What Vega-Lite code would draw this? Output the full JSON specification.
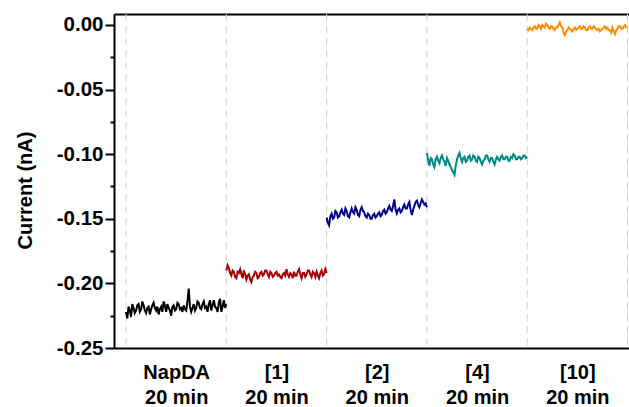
{
  "$schema": "https://vega.github.io/schema/vega-lite/v6.json",
  "width": 515,
  "height": 334,
  "autosize": {"type": "none"},
  "padding": {"left": 114, "top": 14, "right": 0, "bottom": 59},
  "config": {
    "view": {"stroke": null},
    "axis": {
      "labelFont": "Liberation Sans",
      "titleFont": "Liberation Sans",
      "labelFontWeight": "bold",
      "titleFontWeight": "bold",
      "labelColor": "#000000",
      "titleColor": "#000000",
      "domainColor": "#000000",
      "tickColor": "#000000",
      "grid": false
    }
  },
  "datasets": {
    "bounds": [{"time": 0}, {"time": 20}, {"time": 40}, {"time": 60}, {"time": 80}, {"time": 100}],
    "series": [
      {"sample":"NapDA","time":0,"current":-0.222},{"sample":"NapDA","time":0.25,"current":-0.227},{"sample":"NapDA","time":0.5,"current":-0.218},{"sample":"NapDA","time":0.75,"current":-0.221},
      {"sample":"NapDA","time":1,"current":-0.226},{"sample":"NapDA","time":1.25,"current":-0.216},{"sample":"NapDA","time":1.5,"current":-0.219},{"sample":"NapDA","time":1.75,"current":-0.223},
      {"sample":"NapDA","time":2,"current":-0.221},{"sample":"NapDA","time":2.25,"current":-0.217},{"sample":"NapDA","time":2.5,"current":-0.216},{"sample":"NapDA","time":2.75,"current":-0.222},
      {"sample":"NapDA","time":3,"current":-0.220},{"sample":"NapDA","time":3.25,"current":-0.214},{"sample":"NapDA","time":3.5,"current":-0.217},{"sample":"NapDA","time":3.75,"current":-0.221},
      {"sample":"NapDA","time":4,"current":-0.223},{"sample":"NapDA","time":4.25,"current":-0.219},{"sample":"NapDA","time":4.5,"current":-0.218},{"sample":"NapDA","time":4.75,"current":-0.224},
      {"sample":"NapDA","time":5,"current":-0.220},{"sample":"NapDA","time":5.25,"current":-0.217},{"sample":"NapDA","time":5.5,"current":-0.215},{"sample":"NapDA","time":5.75,"current":-0.219},
      {"sample":"NapDA","time":6,"current":-0.221},{"sample":"NapDA","time":6.25,"current":-0.218},{"sample":"NapDA","time":6.5,"current":-0.224},{"sample":"NapDA","time":6.75,"current":-0.220},
      {"sample":"NapDA","time":7,"current":-0.218},{"sample":"NapDA","time":7.25,"current":-0.222},{"sample":"NapDA","time":7.5,"current":-0.214},{"sample":"NapDA","time":7.75,"current":-0.217},
      {"sample":"NapDA","time":8,"current":-0.222},{"sample":"NapDA","time":8.25,"current":-0.216},{"sample":"NapDA","time":8.5,"current":-0.219},{"sample":"NapDA","time":8.75,"current":-0.221},
      {"sample":"NapDA","time":9,"current":-0.225},{"sample":"NapDA","time":9.25,"current":-0.218},{"sample":"NapDA","time":9.5,"current":-0.217},{"sample":"NapDA","time":9.75,"current":-0.221},
      {"sample":"NapDA","time":10,"current":-0.220},{"sample":"NapDA","time":10.25,"current":-0.215},{"sample":"NapDA","time":10.5,"current":-0.216},{"sample":"NapDA","time":10.75,"current":-0.220},
      {"sample":"NapDA","time":11,"current":-0.219},{"sample":"NapDA","time":11.25,"current":-0.222},{"sample":"NapDA","time":11.5,"current":-0.217},{"sample":"NapDA","time":11.75,"current":-0.220},
      {"sample":"NapDA","time":12,"current":-0.221},{"sample":"NapDA","time":12.25,"current":-0.214},{"sample":"NapDA","time":12.5,"current":-0.204},{"sample":"NapDA","time":12.75,"current":-0.218},
      {"sample":"NapDA","time":13,"current":-0.222},{"sample":"NapDA","time":13.25,"current":-0.219},{"sample":"NapDA","time":13.5,"current":-0.216},{"sample":"NapDA","time":13.75,"current":-0.221},
      {"sample":"NapDA","time":14,"current":-0.219},{"sample":"NapDA","time":14.25,"current":-0.214},{"sample":"NapDA","time":14.5,"current":-0.215},{"sample":"NapDA","time":14.75,"current":-0.219},
      {"sample":"NapDA","time":15,"current":-0.220},{"sample":"NapDA","time":15.25,"current":-0.216},{"sample":"NapDA","time":15.5,"current":-0.214},{"sample":"NapDA","time":15.75,"current":-0.219},
      {"sample":"NapDA","time":16,"current":-0.218},{"sample":"NapDA","time":16.25,"current":-0.222},{"sample":"NapDA","time":16.5,"current":-0.216},{"sample":"NapDA","time":16.75,"current":-0.213},
      {"sample":"NapDA","time":17,"current":-0.221},{"sample":"NapDA","time":17.25,"current":-0.217},{"sample":"NapDA","time":17.5,"current":-0.213},{"sample":"NapDA","time":17.75,"current":-0.218},
      {"sample":"NapDA","time":18,"current":-0.219},{"sample":"NapDA","time":18.25,"current":-0.222},{"sample":"NapDA","time":18.5,"current":-0.215},{"sample":"NapDA","time":18.75,"current":-0.212},
      {"sample":"NapDA","time":19,"current":-0.222},{"sample":"NapDA","time":19.25,"current":-0.218},{"sample":"NapDA","time":19.5,"current":-0.213},{"sample":"NapDA","time":19.75,"current":-0.219},
      {"sample":"NapDA","time":20,"current":-0.216},
      {"sample":"[1]","time":20,"current":-0.190},{"sample":"[1]","time":20.25,"current":-0.186},{"sample":"[1]","time":20.5,"current":-0.188},{"sample":"[1]","time":20.75,"current":-0.192},
      {"sample":"[1]","time":21,"current":-0.194},{"sample":"[1]","time":21.25,"current":-0.190},{"sample":"[1]","time":21.5,"current":-0.191},{"sample":"[1]","time":21.75,"current":-0.195},
      {"sample":"[1]","time":22,"current":-0.196},{"sample":"[1]","time":22.25,"current":-0.191},{"sample":"[1]","time":22.5,"current":-0.192},{"sample":"[1]","time":22.75,"current":-0.189},
      {"sample":"[1]","time":23,"current":-0.193},{"sample":"[1]","time":23.25,"current":-0.196},{"sample":"[1]","time":23.5,"current":-0.190},{"sample":"[1]","time":23.75,"current":-0.193},
      {"sample":"[1]","time":24,"current":-0.197},{"sample":"[1]","time":24.25,"current":-0.194},{"sample":"[1]","time":24.5,"current":-0.193},{"sample":"[1]","time":24.75,"current":-0.197},
      {"sample":"[1]","time":25,"current":-0.199},{"sample":"[1]","time":25.25,"current":-0.195},{"sample":"[1]","time":25.5,"current":-0.194},{"sample":"[1]","time":25.75,"current":-0.191},
      {"sample":"[1]","time":26,"current":-0.192},{"sample":"[1]","time":26.25,"current":-0.196},{"sample":"[1]","time":26.5,"current":-0.195},{"sample":"[1]","time":26.75,"current":-0.192},
      {"sample":"[1]","time":27,"current":-0.191},{"sample":"[1]","time":27.25,"current":-0.194},{"sample":"[1]","time":27.5,"current":-0.193},{"sample":"[1]","time":27.75,"current":-0.190},
      {"sample":"[1]","time":28,"current":-0.190},{"sample":"[1]","time":28.25,"current":-0.193},{"sample":"[1]","time":28.5,"current":-0.195},{"sample":"[1]","time":28.75,"current":-0.191},
      {"sample":"[1]","time":29,"current":-0.192},{"sample":"[1]","time":29.25,"current":-0.195},{"sample":"[1]","time":29.5,"current":-0.194},{"sample":"[1]","time":29.75,"current":-0.192},
      {"sample":"[1]","time":30,"current":-0.191},{"sample":"[1]","time":30.25,"current":-0.194},{"sample":"[1]","time":30.5,"current":-0.193},{"sample":"[1]","time":30.75,"current":-0.195},
      {"sample":"[1]","time":31,"current":-0.196},{"sample":"[1]","time":31.25,"current":-0.193},{"sample":"[1]","time":31.5,"current":-0.192},{"sample":"[1]","time":31.75,"current":-0.194},
      {"sample":"[1]","time":32,"current":-0.189},{"sample":"[1]","time":32.25,"current":-0.193},{"sample":"[1]","time":32.5,"current":-0.195},{"sample":"[1]","time":32.75,"current":-0.192},
      {"sample":"[1]","time":33,"current":-0.193},{"sample":"[1]","time":33.25,"current":-0.196},{"sample":"[1]","time":33.5,"current":-0.191},{"sample":"[1]","time":33.75,"current":-0.194},
      {"sample":"[1]","time":34,"current":-0.194},{"sample":"[1]","time":34.25,"current":-0.191},{"sample":"[1]","time":34.5,"current":-0.189},{"sample":"[1]","time":34.75,"current":-0.193},
      {"sample":"[1]","time":35,"current":-0.196},{"sample":"[1]","time":35.25,"current":-0.192},{"sample":"[1]","time":35.5,"current":-0.192},{"sample":"[1]","time":35.75,"current":-0.195},
      {"sample":"[1]","time":36,"current":-0.193},{"sample":"[1]","time":36.25,"current":-0.190},{"sample":"[1]","time":36.5,"current":-0.190},{"sample":"[1]","time":36.75,"current":-0.193},
      {"sample":"[1]","time":37,"current":-0.195},{"sample":"[1]","time":37.25,"current":-0.191},{"sample":"[1]","time":37.5,"current":-0.192},{"sample":"[1]","time":37.75,"current":-0.195},
      {"sample":"[1]","time":38,"current":-0.191},{"sample":"[1]","time":38.25,"current":-0.194},{"sample":"[1]","time":38.5,"current":-0.196},{"sample":"[1]","time":38.75,"current":-0.192},
      {"sample":"[1]","time":39,"current":-0.190},{"sample":"[1]","time":39.25,"current":-0.194},{"sample":"[1]","time":39.5,"current":-0.193},{"sample":"[1]","time":39.75,"current":-0.189},
      {"sample":"[1]","time":40,"current":-0.192},
      {"sample":"[2]","time":40,"current":-0.149},{"sample":"[2]","time":40.25,"current":-0.153},{"sample":"[2]","time":40.5,"current":-0.155},{"sample":"[2]","time":40.75,"current":-0.148},
      {"sample":"[2]","time":41,"current":-0.146},{"sample":"[2]","time":41.25,"current":-0.150},{"sample":"[2]","time":41.5,"current":-0.149},{"sample":"[2]","time":41.75,"current":-0.144},
      {"sample":"[2]","time":42,"current":-0.145},{"sample":"[2]","time":42.25,"current":-0.149},{"sample":"[2]","time":42.5,"current":-0.148},{"sample":"[2]","time":42.75,"current":-0.145},
      {"sample":"[2]","time":43,"current":-0.143},{"sample":"[2]","time":43.25,"current":-0.146},{"sample":"[2]","time":43.5,"current":-0.147},{"sample":"[2]","time":43.75,"current":-0.142},
      {"sample":"[2]","time":44,"current":-0.144},{"sample":"[2]","time":44.25,"current":-0.148},{"sample":"[2]","time":44.5,"current":-0.149},{"sample":"[2]","time":44.75,"current":-0.145},
      {"sample":"[2]","time":45,"current":-0.142},{"sample":"[2]","time":45.25,"current":-0.145},{"sample":"[2]","time":45.5,"current":-0.146},{"sample":"[2]","time":45.75,"current":-0.141},
      {"sample":"[2]","time":46,"current":-0.143},{"sample":"[2]","time":46.25,"current":-0.147},{"sample":"[2]","time":46.5,"current":-0.148},{"sample":"[2]","time":46.75,"current":-0.143},
      {"sample":"[2]","time":47,"current":-0.141},{"sample":"[2]","time":47.25,"current":-0.144},{"sample":"[2]","time":47.5,"current":-0.145},{"sample":"[2]","time":47.75,"current":-0.148},
      {"sample":"[2]","time":48,"current":-0.149},{"sample":"[2]","time":48.25,"current":-0.146},{"sample":"[2]","time":48.5,"current":-0.147},{"sample":"[2]","time":48.75,"current":-0.150},
      {"sample":"[2]","time":49,"current":-0.150},{"sample":"[2]","time":49.25,"current":-0.147},{"sample":"[2]","time":49.5,"current":-0.146},{"sample":"[2]","time":49.75,"current":-0.149},
      {"sample":"[2]","time":50,"current":-0.148},{"sample":"[2]","time":50.25,"current":-0.146},{"sample":"[2]","time":50.5,"current":-0.145},{"sample":"[2]","time":50.75,"current":-0.148},
      {"sample":"[2]","time":51,"current":-0.147},{"sample":"[2]","time":51.25,"current":-0.144},{"sample":"[2]","time":51.5,"current":-0.143},{"sample":"[2]","time":51.75,"current":-0.146},
      {"sample":"[2]","time":52,"current":-0.145},{"sample":"[2]","time":52.25,"current":-0.142},{"sample":"[2]","time":52.5,"current":-0.140},{"sample":"[2]","time":52.75,"current":-0.143},
      {"sample":"[2]","time":53,"current":-0.144},{"sample":"[2]","time":53.25,"current":-0.140},{"sample":"[2]","time":53.5,"current":-0.135},{"sample":"[2]","time":53.75,"current":-0.143},
      {"sample":"[2]","time":54,"current":-0.146},{"sample":"[2]","time":54.25,"current":-0.143},{"sample":"[2]","time":54.5,"current":-0.142},{"sample":"[2]","time":54.75,"current":-0.145},
      {"sample":"[2]","time":55,"current":-0.144},{"sample":"[2]","time":55.25,"current":-0.141},{"sample":"[2]","time":55.5,"current":-0.139},{"sample":"[2]","time":55.75,"current":-0.142},
      {"sample":"[2]","time":56,"current":-0.142},{"sample":"[2]","time":56.25,"current":-0.139},{"sample":"[2]","time":56.5,"current":-0.137},{"sample":"[2]","time":56.75,"current":-0.143},
      {"sample":"[2]","time":57,"current":-0.147},{"sample":"[2]","time":57.25,"current":-0.143},{"sample":"[2]","time":57.5,"current":-0.140},{"sample":"[2]","time":57.75,"current":-0.137},
      {"sample":"[2]","time":58,"current":-0.136},{"sample":"[2]","time":58.25,"current":-0.139},{"sample":"[2]","time":58.5,"current":-0.141},{"sample":"[2]","time":58.75,"current":-0.138},
      {"sample":"[2]","time":59,"current":-0.135},{"sample":"[2]","time":59.25,"current":-0.137},{"sample":"[2]","time":59.5,"current":-0.139},{"sample":"[2]","time":59.75,"current":-0.138},
      {"sample":"[2]","time":60,"current":-0.141},
      {"sample":"[4]","time":60,"current":-0.099},{"sample":"[4]","time":60.25,"current":-0.105},{"sample":"[4]","time":60.5,"current":-0.109},{"sample":"[4]","time":60.75,"current":-0.103},
      {"sample":"[4]","time":61,"current":-0.104},{"sample":"[4]","time":61.25,"current":-0.108},{"sample":"[4]","time":61.5,"current":-0.110},{"sample":"[4]","time":61.75,"current":-0.104},
      {"sample":"[4]","time":62,"current":-0.102},{"sample":"[4]","time":62.25,"current":-0.105},{"sample":"[4]","time":62.5,"current":-0.107},{"sample":"[4]","time":62.75,"current":-0.103},
      {"sample":"[4]","time":63,"current":-0.101},{"sample":"[4]","time":63.25,"current":-0.104},{"sample":"[4]","time":63.5,"current":-0.106},{"sample":"[4]","time":63.75,"current":-0.109},
      {"sample":"[4]","time":64,"current":-0.103},{"sample":"[4]","time":64.25,"current":-0.105},{"sample":"[4]","time":64.5,"current":-0.108},{"sample":"[4]","time":64.75,"current":-0.110},
      {"sample":"[4]","time":65,"current":-0.112},{"sample":"[4]","time":65.25,"current":-0.114},{"sample":"[4]","time":65.5,"current":-0.116},{"sample":"[4]","time":65.75,"current":-0.109},
      {"sample":"[4]","time":66,"current":-0.104},{"sample":"[4]","time":66.25,"current":-0.101},{"sample":"[4]","time":66.5,"current":-0.099},{"sample":"[4]","time":66.75,"current":-0.103},
      {"sample":"[4]","time":67,"current":-0.106},{"sample":"[4]","time":67.25,"current":-0.103},{"sample":"[4]","time":67.5,"current":-0.102},{"sample":"[4]","time":67.75,"current":-0.106},
      {"sample":"[4]","time":68,"current":-0.105},{"sample":"[4]","time":68.25,"current":-0.102},{"sample":"[4]","time":68.5,"current":-0.101},{"sample":"[4]","time":68.75,"current":-0.105},
      {"sample":"[4]","time":69,"current":-0.104},{"sample":"[4]","time":69.25,"current":-0.101},{"sample":"[4]","time":69.5,"current":-0.102},{"sample":"[4]","time":69.75,"current":-0.105},
      {"sample":"[4]","time":70,"current":-0.106},{"sample":"[4]","time":70.25,"current":-0.102},{"sample":"[4]","time":70.5,"current":-0.103},{"sample":"[4]","time":70.75,"current":-0.106},
      {"sample":"[4]","time":71,"current":-0.108},{"sample":"[4]","time":71.25,"current":-0.105},{"sample":"[4]","time":71.5,"current":-0.104},{"sample":"[4]","time":71.75,"current":-0.101},
      {"sample":"[4]","time":72,"current":-0.101},{"sample":"[4]","time":72.25,"current":-0.104},{"sample":"[4]","time":72.5,"current":-0.106},{"sample":"[4]","time":72.75,"current":-0.103},
      {"sample":"[4]","time":73,"current":-0.103},{"sample":"[4]","time":73.25,"current":-0.106},{"sample":"[4]","time":73.5,"current":-0.108},{"sample":"[4]","time":73.75,"current":-0.104},
      {"sample":"[4]","time":74,"current":-0.102},{"sample":"[4]","time":74.25,"current":-0.104},{"sample":"[4]","time":74.5,"current":-0.105},{"sample":"[4]","time":74.75,"current":-0.102},
      {"sample":"[4]","time":75,"current":-0.101},{"sample":"[4]","time":75.25,"current":-0.104},{"sample":"[4]","time":75.5,"current":-0.104},{"sample":"[4]","time":75.75,"current":-0.102},
      {"sample":"[4]","time":76,"current":-0.102},{"sample":"[4]","time":76.25,"current":-0.105},{"sample":"[4]","time":76.5,"current":-0.105},{"sample":"[4]","time":76.75,"current":-0.102},
      {"sample":"[4]","time":77,"current":-0.103},{"sample":"[4]","time":77.25,"current":-0.100},{"sample":"[4]","time":77.5,"current":-0.101},{"sample":"[4]","time":77.75,"current":-0.104},
      {"sample":"[4]","time":78,"current":-0.104},{"sample":"[4]","time":78.25,"current":-0.102},{"sample":"[4]","time":78.5,"current":-0.102},{"sample":"[4]","time":78.75,"current":-0.104},
      {"sample":"[4]","time":79,"current":-0.103},{"sample":"[4]","time":79.25,"current":-0.101},{"sample":"[4]","time":79.5,"current":-0.101},{"sample":"[4]","time":79.75,"current":-0.103},
      {"sample":"[4]","time":80,"current":-0.102},
      {"sample":"[10]","time":80,"current":-0.003},{"sample":"[10]","time":80.25,"current":-0.004},{"sample":"[10]","time":80.5,"current":-0.002},{"sample":"[10]","time":80.75,"current":-0.003},
      {"sample":"[10]","time":81,"current":-0.004},{"sample":"[10]","time":81.25,"current":-0.002},{"sample":"[10]","time":81.5,"current":-0.001},{"sample":"[10]","time":81.75,"current":-0.003},
      {"sample":"[10]","time":82,"current":-0.003},{"sample":"[10]","time":82.25,"current":0.000},{"sample":"[10]","time":82.5,"current":-0.001},{"sample":"[10]","time":82.75,"current":-0.003},
      {"sample":"[10]","time":83,"current":0.000},{"sample":"[10]","time":83.25,"current":-0.001},{"sample":"[10]","time":83.5,"current":-0.002},{"sample":"[10]","time":83.75,"current":0.001},
      {"sample":"[10]","time":84,"current":0.000},{"sample":"[10]","time":84.25,"current":-0.002},{"sample":"[10]","time":84.5,"current":-0.003},{"sample":"[10]","time":84.75,"current":-0.001},
      {"sample":"[10]","time":85,"current":-0.001},{"sample":"[10]","time":85.25,"current":-0.003},{"sample":"[10]","time":85.5,"current":-0.004},{"sample":"[10]","time":85.75,"current":-0.002},
      {"sample":"[10]","time":86,"current":-0.002},{"sample":"[10]","time":86.25,"current":0.000},{"sample":"[10]","time":86.5,"current":0.002},{"sample":"[10]","time":86.75,"current":-0.001},
      {"sample":"[10]","time":87,"current":-0.002},{"sample":"[10]","time":87.25,"current":-0.006},{"sample":"[10]","time":87.5,"current":-0.008},{"sample":"[10]","time":87.75,"current":-0.005},
      {"sample":"[10]","time":88,"current":-0.004},{"sample":"[10]","time":88.25,"current":-0.002},{"sample":"[10]","time":88.5,"current":-0.003},{"sample":"[10]","time":88.75,"current":-0.004},
      {"sample":"[10]","time":89,"current":-0.005},{"sample":"[10]","time":89.25,"current":-0.003},{"sample":"[10]","time":89.5,"current":-0.002},{"sample":"[10]","time":89.75,"current":-0.004},
      {"sample":"[10]","time":90,"current":-0.003},{"sample":"[10]","time":90.25,"current":-0.002},{"sample":"[10]","time":90.5,"current":-0.001},{"sample":"[10]","time":90.75,"current":-0.003},
      {"sample":"[10]","time":91,"current":-0.003},{"sample":"[10]","time":91.25,"current":-0.001},{"sample":"[10]","time":91.5,"current":-0.002},{"sample":"[10]","time":91.75,"current":-0.004},
      {"sample":"[10]","time":92,"current":-0.004},{"sample":"[10]","time":92.25,"current":-0.002},{"sample":"[10]","time":92.5,"current":-0.001},{"sample":"[10]","time":92.75,"current":-0.003},
      {"sample":"[10]","time":93,"current":-0.003},{"sample":"[10]","time":93.25,"current":-0.001},{"sample":"[10]","time":93.5,"current":-0.002},{"sample":"[10]","time":93.75,"current":-0.003},
      {"sample":"[10]","time":94,"current":-0.004},{"sample":"[10]","time":94.25,"current":-0.003},{"sample":"[10]","time":94.5,"current":-0.005},{"sample":"[10]","time":94.75,"current":-0.004},
      {"sample":"[10]","time":95,"current":-0.003},{"sample":"[10]","time":95.25,"current":-0.002},{"sample":"[10]","time":95.5,"current":-0.001},{"sample":"[10]","time":95.75,"current":-0.003},
      {"sample":"[10]","time":96,"current":-0.002},{"sample":"[10]","time":96.25,"current":-0.004},{"sample":"[10]","time":96.5,"current":-0.004},{"sample":"[10]","time":96.75,"current":-0.006},
      {"sample":"[10]","time":97,"current":-0.002},{"sample":"[10]","time":97.25,"current":-0.005},{"sample":"[10]","time":97.5,"current":-0.007},{"sample":"[10]","time":97.75,"current":-0.004},
      {"sample":"[10]","time":98,"current":-0.003},{"sample":"[10]","time":98.25,"current":-0.001},{"sample":"[10]","time":98.5,"current":-0.001},{"sample":"[10]","time":98.75,"current":-0.003},
      {"sample":"[10]","time":99,"current":-0.003},{"sample":"[10]","time":99.25,"current":-0.001},{"sample":"[10]","time":99.5,"current":0.000},{"sample":"[10]","time":99.75,"current":-0.002},
      {"sample":"[10]","time":100,"current":-0.002}
    ]
  },
  "layer": [
    {
      "data": {"name": "bounds"},
      "mark": {"type": "rule", "color": "#cfcfcf", "strokeWidth": 1, "strokeDash": [7, 5]},
      "encoding": {
        "x": {
          "field": "time", "type": "quantitative",
          "scale": {"domain": [-2.4, 100.3], "nice": false, "zero": false},
          "axis": {"orient": "top", "labels": false, "ticks": false, "title": null, "domainWidth": 2}
        }
      }
    },
    {
      "data": {"name": "series"},
      "mark": {"type": "line", "strokeWidth": 2},
      "encoding": {
        "x": {
          "field": "time", "type": "quantitative",
          "scale": {"domain": [-2.4, 100.3], "nice": false, "zero": false},
          "axis": {
            "orient": "bottom", "values": [10, 30, 50, 70, 90], "ticks": false,
            "labelExpr": "datum.value == 10 ? ['NapDA', '20 min'] : datum.value == 30 ? ['[1]', '20 min'] : datum.value == 50 ? ['[2]', '20 min'] : datum.value == 70 ? ['[4]', '20 min'] : ['[10]', '20 min']",
            "labelFontSize": 20, "labelLineHeight": 25, "labelPadding": 14,
            "title": null, "domainWidth": 2
          }
        },
        "y": {
          "field": "current", "type": "quantitative",
          "scale": {"domain": [-0.25, 0.0085], "nice": false, "zero": false},
          "axis": {
            "orient": "left",
            "values": [-0.25, -0.2, -0.15, -0.1, -0.05, 0],
            "labelExpr": "(datum.value < 0 ? '-' : '') + format(abs(datum.value), '.2f')",
            "labelFontSize": 20.5, "labelPadding": 2,
            "tickSize": 9, "tickWidth": 2, "domainWidth": 2,
            "title": "Current (nA)", "titleFontSize": 20, "titlePadding": 21, "titleY": 176
          }
        },
        "color": {
          "field": "sample", "type": "nominal",
          "scale": {"domain": ["NapDA", "[1]", "[2]", "[4]", "[10]"], "range": ["#000000", "#a80000", "#00008b", "#008b82", "#ff8c00"]},
          "legend": null
        }
      }
    },
    {
      "data": {"name": "series"},
      "mark": {"type": "point", "opacity": 0},
      "encoding": {
        "x": {
          "field": "time", "type": "quantitative",
          "scale": {"domain": [-2.4, 100.3], "nice": false, "zero": false},
          "axis": null
        },
        "y": {
          "field": "current", "type": "quantitative",
          "scale": {"domain": [-0.25, 0.0085], "nice": false, "zero": false},
          "axis": {
            "orient": "left",
            "values": [-0.225, -0.175, -0.125, -0.075, -0.025],
            "labels": false, "domain": false, "tickSize": 4, "tickWidth": 2, "title": null
          }
        }
      }
    }
  ],
  "resolve": {"axis": {"x": "independent", "y": "independent"}}
}
